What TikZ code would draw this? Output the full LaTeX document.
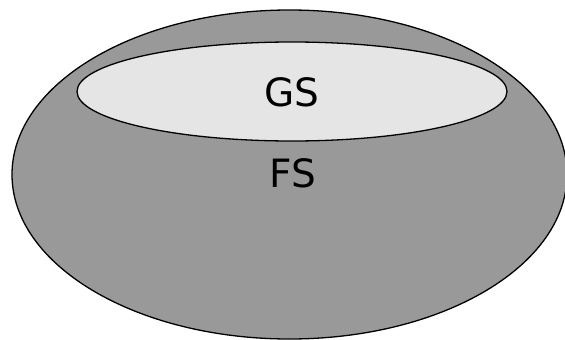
\documentclass[tikz,border=0pt]{standalone}
\usepackage{fontspec}
\setmainfont{DejaVu Sans}
\definecolor{outergray}{HTML}{999999}
\definecolor{innergray}{HTML}{E5E5E5}
\tikzset{
  setshape/.style={draw=black, line width=1.3pt},
  setlabel/.style={anchor=base, inner sep=0pt, font=\fontsize{39}{46}\selectfont}
}
\begin{document}
\begin{tikzpicture}[x=1pt,y=-1pt]
  \useasboundingbox (0,0) rectangle (565,340);
  \draw[setshape, fill=outergray] (289.5,174.5) ellipse [x radius=277.5, y radius=164.5];
  \draw[setshape, fill=innergray] (292,91.5) ellipse [x radius=215, y radius=49.5];
  \node[setlabel] (gs) at (292,106) {GS};
  \node[setlabel] (fs) at (293,187) {FS};
\end{tikzpicture}
\end{document}
